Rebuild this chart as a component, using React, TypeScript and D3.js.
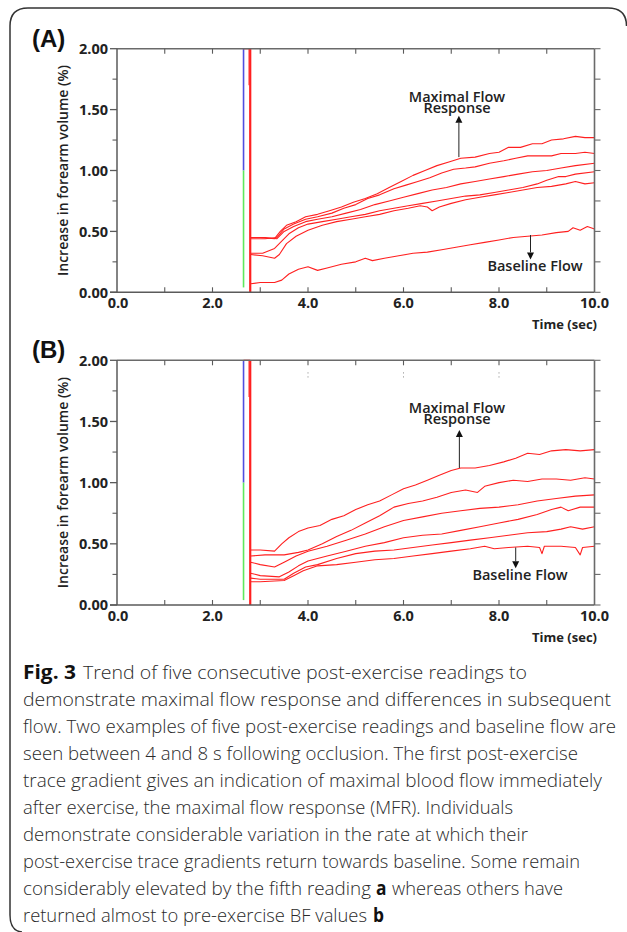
import React from 'react';
import * as d3 from 'd3';

// ---------- axis data ----------
const X_TICK_VALUES = [0, 2, 4, 6, 8, 10];
const X_TICK_LABELS = ['0.0', '2.0', '4.0', '6.0', '8.0', '10.0'];
const X_MINOR_VALUES = [1, 3, 5, 7, 9];
const Y_TICK_VALUES = [0, 0.5, 1, 1.5, 2];
const Y_TICK_LABELS = ['0.00', '0.50', '1.00', '1.50', '2.00'];
const Y_MINOR_VALUES = [0.25, 0.75, 1.25, 1.75];

const Y_TITLE = 'Increase in forearm volume (%)';
const X_TITLE = 'Time (sec)';

// ---------- panel A traces (time s, % increase) ----------
const A_TRACE_1 = [[2.8, 0.45], [3.0, 0.45], [3.3, 0.44], [3.42, 0.5], [3.55, 0.55], [3.75, 0.58], [3.95, 0.62], [4.2, 0.64], [4.45, 0.67], [4.7, 0.7], [4.95, 0.74], [5.2, 0.77], [5.45, 0.81], [5.7, 0.86], [5.95, 0.91], [6.2, 0.96], [6.45, 1.0], [6.7, 1.04], [6.95, 1.07], [7.2, 1.1], [7.5, 1.11], [7.8, 1.14], [8.0, 1.15], [8.2, 1.19], [8.45, 1.19], [8.7, 1.22], [8.9, 1.22], [9.1, 1.25], [9.35, 1.26], [9.6, 1.28], [9.8, 1.27], [10.0, 1.27]];
const A_TRACE_2 = [[2.8, 0.44], [3.1, 0.44], [3.35, 0.45], [3.5, 0.52], [3.7, 0.56], [3.95, 0.6], [4.2, 0.62], [4.5, 0.65], [4.75, 0.69], [5.0, 0.72], [5.25, 0.77], [5.5, 0.8], [5.8, 0.85], [6.05, 0.88], [6.3, 0.91], [6.55, 0.94], [6.8, 0.98], [7.05, 1.01], [7.3, 1.02], [7.5, 1.03], [7.8, 1.06], [8.1, 1.08], [8.35, 1.1], [8.6, 1.12], [8.85, 1.12], [9.1, 1.12], [9.3, 1.14], [9.6, 1.14], [9.8, 1.15], [10.0, 1.14]];
const A_TRACE_3 = [[2.8, 0.45], [3.1, 0.45], [3.35, 0.44], [3.5, 0.5], [3.7, 0.54], [3.95, 0.58], [4.2, 0.6], [4.5, 0.62], [4.8, 0.65], [5.1, 0.68], [5.4, 0.72], [5.7, 0.75], [6.0, 0.78], [6.3, 0.81], [6.6, 0.84], [6.9, 0.86], [7.2, 0.89], [7.5, 0.91], [7.8, 0.93], [8.1, 0.95], [8.4, 0.97], [8.7, 0.99], [9.0, 1.0], [9.3, 1.02], [9.6, 1.04], [10.0, 1.06]];
const A_TRACE_4 = [[2.8, 0.32], [3.05, 0.32], [3.3, 0.36], [3.45, 0.42], [3.6, 0.48], [3.8, 0.53], [4.0, 0.56], [4.3, 0.58], [4.6, 0.6], [4.9, 0.62], [5.2, 0.64], [5.5, 0.67], [5.8, 0.69], [6.1, 0.71], [6.4, 0.73], [6.7, 0.75], [7.0, 0.77], [7.3, 0.79], [7.6, 0.8], [7.9, 0.82], [8.2, 0.84], [8.5, 0.86], [8.8, 0.89], [9.0, 0.92], [9.25, 0.95], [9.4, 0.95], [9.6, 0.97], [10.0, 0.99]];
const A_TRACE_5 = [[2.8, 0.31], [3.05, 0.3], [3.3, 0.28], [3.4, 0.31], [3.55, 0.4], [3.75, 0.46], [4.0, 0.51], [4.3, 0.55], [4.6, 0.58], [4.9, 0.6], [5.2, 0.62], [5.5, 0.64], [5.8, 0.67], [6.1, 0.69], [6.35, 0.71], [6.5, 0.7], [6.6, 0.67], [6.75, 0.7], [7.0, 0.73], [7.3, 0.76], [7.6, 0.78], [7.9, 0.8], [8.2, 0.82], [8.5, 0.84], [8.8, 0.86], [9.1, 0.87], [9.4, 0.89], [9.6, 0.91], [9.8, 0.89], [10.0, 0.9]];
const A_BASELINE = [[2.8, 0.07], [3.0, 0.08], [3.3, 0.08], [3.45, 0.1], [3.6, 0.15], [3.8, 0.19], [4.0, 0.21], [4.2, 0.18], [4.4, 0.2], [4.7, 0.23], [5.0, 0.25], [5.2, 0.28], [5.35, 0.26], [5.6, 0.28], [5.9, 0.3], [6.2, 0.32], [6.5, 0.33], [6.8, 0.35], [7.1, 0.37], [7.4, 0.39], [7.7, 0.41], [8.0, 0.43], [8.3, 0.45], [8.6, 0.46], [8.9, 0.47], [9.2, 0.49], [9.45, 0.5], [9.55, 0.53], [9.7, 0.51], [9.85, 0.54], [10.0, 0.52]];

// ---------- panel B traces ----------
const B_TRACE_1 = [[2.8, 0.45], [3.0, 0.45], [3.3, 0.44], [3.45, 0.5], [3.6, 0.55], [3.8, 0.6], [4.0, 0.63], [4.25, 0.65], [4.5, 0.7], [4.75, 0.73], [5.0, 0.78], [5.25, 0.82], [5.5, 0.85], [5.75, 0.9], [6.0, 0.95], [6.25, 0.98], [6.5, 1.02], [6.75, 1.06], [7.0, 1.1], [7.2, 1.12], [7.5, 1.12], [7.8, 1.14], [8.1, 1.17], [8.35, 1.2], [8.6, 1.24], [8.85, 1.23], [9.1, 1.26], [9.4, 1.27], [9.7, 1.26], [10.0, 1.27]];
const B_TRACE_2 = [[2.8, 0.4], [3.1, 0.41], [3.5, 0.41], [3.8, 0.43], [4.0, 0.45], [4.3, 0.5], [4.6, 0.56], [4.9, 0.61], [5.2, 0.67], [5.5, 0.73], [5.8, 0.8], [6.1, 0.83], [6.4, 0.85], [6.7, 0.88], [7.0, 0.92], [7.3, 0.94], [7.55, 0.92], [7.7, 0.97], [8.0, 1.0], [8.3, 1.02], [8.6, 1.01], [8.9, 1.03], [9.2, 1.03], [9.5, 1.02], [9.8, 1.04], [10.0, 1.03]];
const B_TRACE_3 = [[2.8, 0.35], [3.0, 0.33], [3.3, 0.31], [3.5, 0.35], [3.75, 0.4], [4.0, 0.44], [4.4, 0.48], [4.8, 0.53], [5.2, 0.58], [5.6, 0.64], [6.0, 0.69], [6.4, 0.72], [6.8, 0.75], [7.2, 0.77], [7.6, 0.79], [8.0, 0.8], [8.4, 0.82], [8.8, 0.85], [9.2, 0.87], [9.6, 0.89], [10.0, 0.9]];
const B_TRACE_4 = [[2.8, 0.26], [3.0, 0.24], [3.4, 0.23], [3.6, 0.27], [3.8, 0.32], [4.0, 0.36], [4.4, 0.4], [4.8, 0.44], [5.2, 0.48], [5.6, 0.51], [6.0, 0.55], [6.4, 0.57], [6.8, 0.58], [7.2, 0.61], [7.6, 0.64], [8.0, 0.67], [8.4, 0.7], [8.8, 0.74], [9.1, 0.78], [9.3, 0.8], [9.45, 0.77], [9.7, 0.8], [10.0, 0.8]];
const B_TRACE_5 = [[2.8, 0.22], [3.0, 0.21], [3.5, 0.21], [3.7, 0.26], [3.95, 0.31], [4.2, 0.33], [4.6, 0.38], [5.0, 0.42], [5.4, 0.44], [5.8, 0.45], [6.2, 0.47], [6.6, 0.49], [7.0, 0.51], [7.4, 0.53], [7.8, 0.55], [8.2, 0.57], [8.6, 0.59], [9.0, 0.6], [9.3, 0.62], [9.5, 0.64], [9.75, 0.62], [10.0, 0.64]];
const B_BASELINE = [[2.8, 0.19], [3.0, 0.19], [3.5, 0.2], [3.7, 0.24], [3.9, 0.28], [4.2, 0.32], [4.6, 0.33], [5.0, 0.35], [5.4, 0.37], [5.8, 0.38], [6.2, 0.4], [6.6, 0.42], [7.0, 0.44], [7.4, 0.46], [7.7, 0.48], [7.9, 0.46], [8.2, 0.47], [8.6, 0.48], [8.85, 0.47], [8.9, 0.42], [8.95, 0.48], [9.3, 0.48], [9.6, 0.47], [9.7, 0.41], [9.75, 0.47], [10.0, 0.48]];

const PANEL_A_TRACES = [A_TRACE_1, A_TRACE_2, A_TRACE_3, A_TRACE_4, A_TRACE_5, A_BASELINE];
const PANEL_B_TRACES = [B_TRACE_1, B_TRACE_2, B_TRACE_3, B_TRACE_4, B_TRACE_5, B_BASELINE];

// vertical event markers: [x, yFrom, yTo]
const MARKER_BLUE = [2.65, 2.0, 1.0];
const MARKER_GREEN = [2.65, 1.0, 0.04];
const MARKER_RED = [2.79, 2.0, 0.0];

// annotation anchors: [x, yFrom, yTo]
const A_MFR_ARROW = [7.16, 1.11, 1.45];
const A_BF_ARROW = [8.66, 0.47, 0.27];
const B_MFR_ARROW = [7.17, 1.12, 1.43];
const B_BF_ARROW = [8.35, 0.47, 0.3];

// caption text pieces (text, bold)
const CAPTION_PIECES = [
  [['Fig. 3', true], ['Trend of five consecutive post-exercise readings to', false]],
  [['demonstrate maximal flow response and differences in subsequent', false]],
  [['flow. Two examples of five post-exercise readings and baseline flow are', false]],
  [['seen between 4 and 8 s following occlusion. The first post-exercise', false]],
  [['trace gradient gives an indication of maximal blood flow immediately', false]],
  [['after exercise, the maximal flow response (MFR). Individuals', false]],
  [['demonstrate considerable variation in the rate at which their', false]],
  [['post-exercise trace gradients return towards baseline. Some remain', false]],
  [['considerably elevated by the fifth reading', false], ['a', true], ['whereas others have', false]],
  [['returned almost to pre-exercise BF values', false], ['b', true]],
];
// layout of each caption piece: [left x, width]
const CAPTION_LAYOUT = [
  [[23, 53], [83, 444]],
  [[23, 588]],
  [[23, 593]],
  [[23, 555]],
  [[23, 579]],
  [[23, 490]],
  [[23, 505]],
  [[23, 557]],
  [[23, 348], [376, 10.5], [392, 171]],
  [[23, 344], [373, 11]],
];

const FONT = '"Open Sans", "Noto Sans", sans-serif';
const TEXT = '#222';
const RED = '#ff2020';

function Arrow({ x, y1, y2 }: { x: number; y1: number; y2: number }) {
  const dir = y2 < y1 ? -1 : 1;
  const head = 7;
  return (
    <g>
      <line x1={x} x2={x} y1={y1} y2={y2 - dir * head} stroke="#222" strokeWidth={1} />
      <path d={`M${x},${y2} L${x - 3.5},${y2 - dir * head} L${x + 3.5},${y2 - dir * head} Z`} fill="#111" />
    </g>
  );
}

function Panel({ label, top, bottom, traces, mfr, bf, mfrText, bfText, dots }: any) {
  const left = 117;
  const right = 594.5;
  const x = d3.scaleLinear().domain([0, 10]).range([left, right]);
  const y = d3.scaleLinear().domain([0, 2]).range([bottom, top]);
  const line = d3.line<number[]>().x((d) => x(d[0])).y((d) => y(d[1]));
  const allY = [...Y_TICK_VALUES, ...Y_MINOR_VALUES];
  const axisColor = '#5a5a5a';
  return (
    <g>
      <text x={32} y={top - 2} fontFamily='"Liberation Sans", Arial, sans-serif' fontWeight="bold" fontSize={24} fill="#111">{label}</text>
      {traces.map((t: number[][], i: number) => (
        <path key={i} d={line(t) || ''} fill="none" stroke={RED} strokeWidth={1.1} strokeLinejoin="round" />
      ))}
      <line x1={x(MARKER_BLUE[0])} x2={x(MARKER_BLUE[0])} y1={y(MARKER_BLUE[1])} y2={y(MARKER_BLUE[2])} stroke="#4f4fe0" strokeWidth={1.6} />
      <line x1={x(MARKER_GREEN[0])} x2={x(MARKER_GREEN[0])} y1={y(MARKER_GREEN[1])} y2={y(MARKER_GREEN[2])} stroke="#5ee85e" strokeWidth={1.6} />
      <line x1={x(MARKER_BLUE[0])} x2={x(MARKER_RED[0])} y1={y(2)} y2={y(2)} stroke={RED} strokeWidth={1.2} />
      <line x1={x(MARKER_RED[0]) - 1.2} x2={x(MARKER_RED[0]) - 1.2} y1={y(MARKER_RED[1])} y2={y(1.7)} stroke={RED} strokeWidth={1} />
      <line x1={x(MARKER_RED[0])} x2={x(MARKER_RED[0])} y1={y(MARKER_RED[1])} y2={y(MARKER_RED[2])} stroke={RED} strokeWidth={2.2} />
      {dots && dots.map((d: number, i: number) => (
        <g key={i} fill="#999">
          <rect x={x(d) - 0.5} y={top + 12} width={1} height={1.2} />
          <rect x={x(d) - 0.5} y={top + 16} width={1} height={1.2} />
        </g>
      ))}
      <line x1={left} x2={right} y1={top} y2={top} stroke="#6a6a6a" strokeWidth={1.6} />
      <line x1={right} x2={right} y1={top} y2={bottom} stroke="#6a6a6a" strokeWidth={1.6} />
      <line x1={left - 7} x2={right} y1={bottom} y2={bottom} stroke={axisColor} strokeWidth={1.5} />
      <line x1={left} x2={left} y1={top} y2={bottom} stroke={axisColor} strokeWidth={1.5} />
      {Y_TICK_VALUES.map((v) => (
        <line key={'ly' + v} x1={left - 7} x2={left} y1={y(v)} y2={y(v)} stroke={axisColor} strokeWidth={1.3} />
      ))}
      {Y_MINOR_VALUES.map((v) => (
        <line key={'lm' + v} x1={left - 4.5} x2={left} y1={y(v)} y2={y(v)} stroke={axisColor} strokeWidth={1.1} />
      ))}
      {allY.map((v) => (
        <line key={'ry' + v} x1={right} x2={right + 6} y1={y(v)} y2={y(v)} stroke="#6a6a6a" strokeWidth={1.1} />
      ))}
      {[...X_MINOR_VALUES, 2, 4, 6, 8].map((v) => (
        <g key={'tx' + v}>
          <line x1={x(v)} x2={x(v)} y1={top} y2={top + 5} stroke={axisColor} strokeWidth={1.1} />
          <line x1={x(v)} x2={x(v)} y1={bottom} y2={bottom - 5} stroke={axisColor} strokeWidth={1.1} />
        </g>
      ))}
      {Y_TICK_VALUES.map((v, i) => (
        <text key={'yl' + v} x={108} y={y(v)} dy="0.36em" textAnchor="end" fontFamily={FONT} fontWeight={700} fontSize={14.5} fill={TEXT}>{Y_TICK_LABELS[i]}</text>
      ))}
      {X_TICK_VALUES.map((v, i) => (
        <text key={'xl' + v} x={x(v) + (v === 0 ? 1 : 0)} y={bottom + 15.5} textAnchor="middle" fontFamily={FONT} fontWeight={700} fontSize={14.5} fill={TEXT}>{X_TICK_LABELS[i]}</text>
      ))}
      <text x={597} y={bottom + 37} textAnchor="end" fontFamily={FONT} fontWeight={700} fontSize={13} fill={TEXT}>{X_TITLE}</text>
      <text transform={`translate(68,${(top + bottom) / 2}) rotate(-90)`} textAnchor="middle" fontFamily={FONT} fontWeight={600} fontSize={14} fill={TEXT}>{Y_TITLE}</text>
      <Arrow x={x(mfr[0])} y1={y(mfr[1])} y2={y(mfr[2])} />
      <Arrow x={x(bf[0])} y1={y(bf[1])} y2={y(bf[2])} />
      <text x={mfrText[0]} y={mfrText[1]} textAnchor="middle" fontFamily={FONT} fontWeight={600} fontSize={14.5} fill={TEXT}>Maximal Flow</text>
      <text x={mfrText[0]} y={mfrText[1] + 11} textAnchor="middle" fontFamily={FONT} fontWeight={600} fontSize={14.5} fill={TEXT}>Response</text>
      <text x={bfText[0]} y={bfText[1]} textAnchor="middle" fontFamily={FONT} fontWeight={600} fontSize={14.5} fill={TEXT}>Baseline Flow</text>
    </g>
  );
}

export default function App() {
  return (
    <svg width={627} height={932} style={{ position: 'absolute', left: 0, top: 0, background: '#fff' }}>
      <rect width={627} height={932} fill="#fff" />
      <path d="M626.5,26 Q626.5,8 608,8 L28,8 Q10,8 10,26 L10,915 Q10,931 22,932" fill="none" stroke="#333" strokeWidth={1.5} />
      <Panel label="(A)" top={48.7} bottom={292.3} traces={PANEL_A_TRACES} mfr={A_MFR_ARROW} bf={A_BF_ARROW} mfrText={[457, 102]} bfText={[535, 271]} />
      <Panel label="(B)" top={360.3} bottom={605} traces={PANEL_B_TRACES} mfr={B_MFR_ARROW} bf={B_BF_ARROW} mfrText={[457, 413]} bfText={[520, 580]} dots={[4.0, 6.0, 8.0]} />
      {CAPTION_PIECES.map((pieces, i) => (
        <g key={i}>
          {pieces.map((p, j) => (
            <text key={j} x={CAPTION_LAYOUT[i][j][0]} y={679 + i * 27} fontFamily={FONT} fontWeight={p[1] ? 700 : 300} fontSize={19} fill={p[1] ? '#111' : '#2a2a2a'} textLength={CAPTION_LAYOUT[i][j][1]} lengthAdjust="spacingAndGlyphs">{p[0] as string}</text>
          ))}
        </g>
      ))}
    </svg>
  );
}
